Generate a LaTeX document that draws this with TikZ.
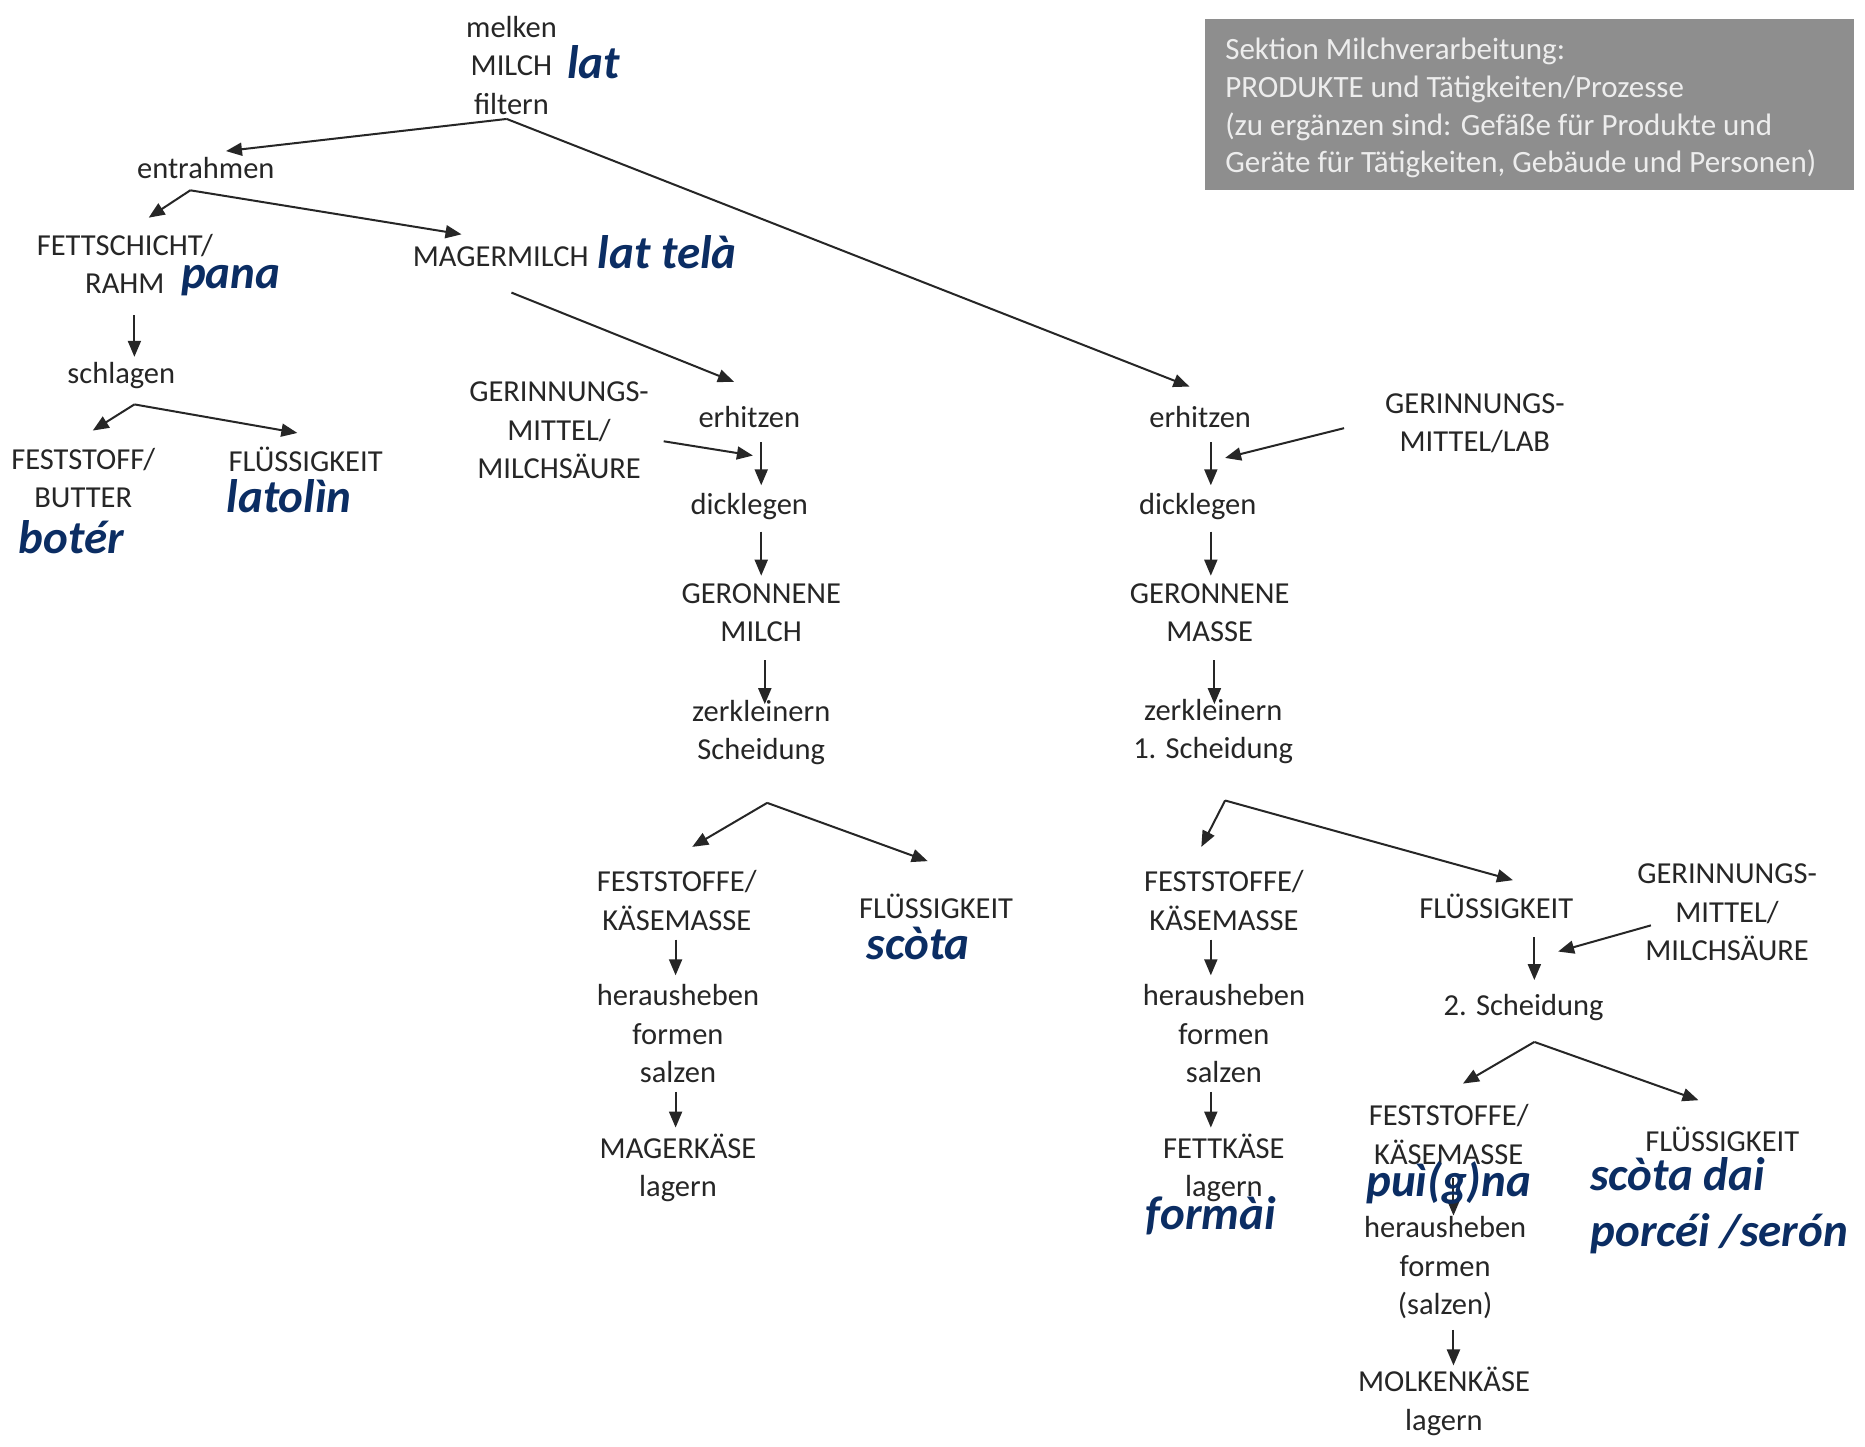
\documentclass[tikz,border=0pt]{standalone}
\usepackage{fontspec}
\setmainfont{Carlito}
\usetikzlibrary{arrows.meta,calc}
\definecolor{ink}{HTML}{262626}
\definecolor{navy}{HTML}{0B2D63}
\definecolor{boxgray}{HTML}{8E8E8E}
\definecolor{boxtext}{HTML}{EDEDED}
\begin{document}
\begin{tikzpicture}[x=1.1894pt,y=-1.1894pt,
  txt/.style={font=\fontsize{30.5}{38.5}\selectfont, text=ink, align=center, inner sep=0pt},
  dia/.style={font=\fontsize{47}{56}\selectfont\bfseries\itshape, text=navy, inner sep=0pt},
  arr/.style={draw=ink, line width=2pt, -{Triangle[length=16pt,width=13pt]}}]
\fill[white] (0,0) rectangle (1568,1216);
\useasboundingbox (0,0) rectangle (1568,1216);

% info box
\fill[boxgray] (1013,16) rectangle (1559,160);
\node (box) [text=boxtext, font=\fontsize{31}{37.7}\selectfont, inner sep=0pt,
  align=left, anchor=west] at (1030,91)
  {Sektion Milchverarbeitung:\\PRODUKTE und Tätigkeiten/Prozesse\\(zu ergänzen sind: Gefäße für Produkte und\\Geräte für Tätigkeiten, Gebäude und Personen)};

% nodes
\node[txt] (milch) at (430,55) {melken\\MILCH\\filtern};
\node[txt] (entr) at (173,141) {entrahmen};
\node[txt] (fett) at (105,222) {FETTSCHICHT/\\RAHM};
\node[txt] (mager) at (421,216) {MAGERMILCH};
\node[txt] (schl) at (102,316) {schlagen};
\node[txt] (butter) at (70,402) {FESTSTOFF/\\BUTTER};
\node[txt] (fla) at (257,386) {FLÜSSIGKEIT};
\node[txt] (gera) at (470,362) {GERINNUNGS-\\MITTEL/\\MILCHSÄURE};
\node[txt] (erha) at (630,351) {erhitzen};
\node[txt] (dicka) at (630,426) {dicklegen};
\node[txt] (grna) at (640,515) {GERONNENE\\MILCH};
\node[txt] (zerka) at (640,616) {zerkleinern\\Scheidung};
\node[txt] (festa) at (569,757) {FESTSTOFFE/\\KÄSEMASSE};
\node[txt] (flb) at (787,762) {FLÜSSIGKEIT};
\node[txt] (hera) at (570,869) {herausheben\\formen\\salzen};
\node[txt] (mkase) at (570,982) {MAGERKÄSE\\lagern};

\node[txt] (erhb) at (1009,351) {erhitzen};
\node[txt] (gerb) at (1240,356) {GERINNUNGS-\\MITTEL/LAB};
\node[txt] (dickb) at (1007,426) {dicklegen};
\node[txt] (grnb) at (1017,515) {GERONNENE\\MASSE};
\node[txt] (zerkb) at (1020,615) {zerkleinern\\1. Scheidung};
\node[txt] (festb) at (1029,757) {FESTSTOFFE/\\KÄSEMASSE};
\node[txt] (flc) at (1258,762) {FLÜSSIGKEIT};
\node[txt] (gerc) at (1452,767) {GERINNUNGS-\\MITTEL/\\MILCHSÄURE};
\node[txt] (herb) at (1029,869) {herausheben\\formen\\salzen};
\node[txt] (fkase) at (1029,982) {FETTKÄSE\\lagern};
\node[txt] (schb) at (1281,847) {2. Scheidung};
\node[txt] (festc) at (1218,954) {FESTSTOFFE/\\KÄSEMASSE};
\node[txt] (fld) at (1448,958) {FLÜSSIGKEIT};
\node[txt] (herc) at (1215,1066) {herausheben\\formen\\(salzen)};
\node[txt] (molk) at (1214,1178) {MOLKENKÄSE\\lagern};

% branch points and arrow targets
\coordinate (ap0) at ($(milch)+(-4,45)$);
\coordinate (ap1) at ($(entr)+(-13,19)$);
\coordinate (ap2) at ($(schl)+(11,24)$);
\coordinate (ap3) at ($(zerka)+(5,59)$);
\coordinate (ap4) at ($(zerkb)+(10,58)$);
\coordinate (ap5) at ($(schb)+(9,29)$);
\coordinate (ma) at ($(erha)+(3,32)$);
\coordinate (mb) at ($(erhb)+(21,34)$);
\coordinate (mc) at ($(flc)+(52,38)$);

% connectors
\draw[arr] (ap0) -- ($(entr)+(17,-14)$);
\draw[arr] (ap0) -- ($(erhb)+(-9,-26)$);
\draw[arr] (ap1) -- ($(fett)+(20,-39)$);
\draw[arr] (ap1) -- ($(mager)+(-33,-19)$);
\draw[arr] ($(fett)+(8,43)$) -- ($(schl)+(11,-16)$);
\draw[arr] (ap2) -- ($(butter)+(8,-40)$);
\draw[arr] (ap2) -- ($(fla)+(-7,-22)$);
\draw[arr] ($(mager)+(9,30)$) -- ($(erha)+(-13,-30)$);
\draw[arr] ($(erha)+(10,21)$) -- ($(dicka)+(10,-18)$);
\draw[arr] ($(gera)+(88,9)$) -- (ma);
\draw[arr] ($(dicka)+(10,21)$) -- ($(grna)+(0,-31)$);
\draw[arr] ($(grna)+(3,40)$) -- ($(zerka)+(3,-24)$);
\draw[arr] (ap3) -- ($(festa)+(13,-45)$);
\draw[arr] (ap3) -- ($(flb)+(-7,-38)$);
\draw[arr] ($(festa)+(-1,33)$) -- ($(hera)+(-2,-49)$);
\draw[arr] ($(hera)+(-2,49)$) -- ($(mkase)+(-2,-34)$);

\draw[arr] ($(erhb)+(9,21)$) -- ($(dickb)+(11,-18)$);
\draw[arr] ($(gerb)+(-110,4)$) -- (mb);
\draw[arr] ($(dickb)+(11,21)$) -- ($(grnb)+(1,-31)$);
\draw[arr] ($(grnb)+(4,40)$) -- ($(zerkb)+(1,-23)$);
\draw[arr] (ap4) -- ($(festb)+(-19,-45)$);
\draw[arr] (ap4) -- ($(flc)+(14,-22)$);
\draw[arr] ($(festb)+(-11,33)$) -- ($(herb)+(-11,-49)$);
\draw[arr] ($(herb)+(-11,49)$) -- ($(fkase)+(-11,-34)$);
\draw[arr] ($(flc)+(32,26)$) -- ($(schb)+(9,-23)$);
\draw[arr] ($(gerc)+(-64,11)$) -- (mc);
\draw[arr] (ap5) -- ($(festc)+(12,-43)$);
\draw[arr] (ap5) -- ($(fld)+(-20,-33)$);
\draw[arr] ($(festc)+(4,36)$) -- ($(herc)+(7,-44)$);
\draw[arr] ($(herc)+(7,52)$) -- ($(molk)+(8,-30)$);

% dialect labels
\node[dia] (d1) at (499,52) {lat};
\node[dia] (d2) at (194,236) {pana};
\node[dia] (d3) at (561,212) {lat telà};
\node[dia] (d4) at (60,452) {botér};
\node[dia] (d5) at (243,417) {latolìn};
\node[dia] (d6) at (772,793) {scòta};
\node[dia] (d7) at (1018,1022) {formài};
\node[dia] (d8) at (1218,995) {puì(g)na};
\node[dia, align=left, anchor=west] (d9) at (1337,1014) {scòta dai\\porcéi /serón};
\end{tikzpicture}
\end{document}
